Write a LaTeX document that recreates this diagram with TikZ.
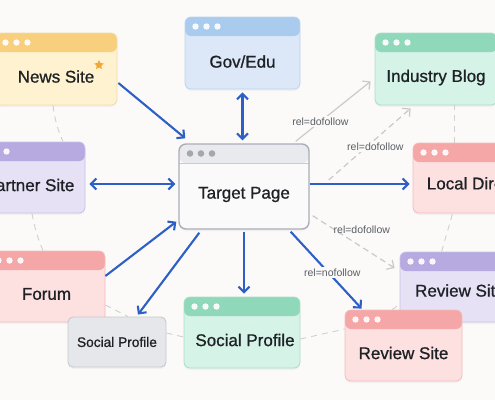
\documentclass[tikz,border=0pt]{standalone}
\usepackage{fontspec}
\setmainfont{Liberation Sans}
\newfontfamily\medfont{Liberation Sans}[FakeBold=0.9]
\usetikzlibrary{arrows.meta,shapes.geometric,shadows,calc}
\definecolor{bg}{HTML}{FBFAF8}
\definecolor{blu}{HTML}{2D5FC6}
\definecolor{ink}{HTML}{1E2125}
\definecolor{lblc}{HTML}{5A5F66}
\definecolor{grayln}{HTML}{C9C9C9}
\definecolor{ringc}{HTML}{D0D0D0}
\definecolor{yH}{HTML}{F8CF7C}\definecolor{yB}{HTML}{FEF2D0}\definecolor{yD}{HTML}{F2DDA6}
\definecolor{bH}{HTML}{A9CBEE}\definecolor{bB}{HTML}{DCE8F8}\definecolor{bD}{HTML}{BCD3EE}
\definecolor{gH}{HTML}{8FD8BA}\definecolor{gB}{HTML}{D6F3E7}\definecolor{gD}{HTML}{A9DEC8}
\definecolor{pH}{HTML}{B6AAE0}\definecolor{pB}{HTML}{E6E1F5}\definecolor{pD}{HTML}{C9C0EA}
\definecolor{rH}{HTML}{F5A6A6}\definecolor{rB}{HTML}{FDE0E0}\definecolor{rD}{HTML}{F3BDBD}
\definecolor{tH}{HTML}{E9EAED}\definecolor{tB}{HTML}{FAFAFB}\definecolor{tD}{HTML}{A9AEB8}
\definecolor{tDot}{HTML}{A4A7AE}\definecolor{tLine}{HTML}{C8CBD1}
\definecolor{sF}{HTML}{E6E7EB}\definecolor{sD}{HTML}{C6C9CF}
\definecolor{starc}{HTML}{F3A632}
\tikzset{
  win/.style n args={3}{draw=#3, fill=#2, line width=0.8pt, rounded corners=6pt, inner sep=0pt,
    drop shadow={shadow xshift=0pt, shadow yshift=-2pt, opacity=0.07},
    path picture={
      \fill[#1] (path picture bounding box.north west) rectangle ([yshift=-19pt]path picture bounding box.north east);
      \foreach \dx in {10.5,21.5,32.5}
        \fill[white, opacity=.9] ([xshift=\dx pt, yshift=-9.5pt]path picture bounding box.north west) circle (3.2pt);
    }},
  tgtwin/.style={draw=tD, fill=tB, line width=1.4pt, rounded corners=7pt, inner sep=0pt,
    drop shadow={shadow xshift=0pt, shadow yshift=-2pt, opacity=0.08},
    path picture={
      \fill[tH] (path picture bounding box.north west) rectangle ([yshift=-19pt]path picture bounding box.north east);
      \draw[tLine, line width=0.8pt] ([yshift=-19pt]path picture bounding box.north west) -- ([yshift=-19pt]path picture bounding box.north east);
      \foreach \dx in {11,22,33}
        \fill[tDot] ([xshift=\dx pt, yshift=-9.5pt]path picture bounding box.north west) circle (3.3pt);
    }},
  ttl/.style={font=\medfont\fontsize{17}{20}\selectfont, text=ink},
  lbl/.style={font=\fontsize{10.5}{12}\selectfont, text=lblc, fill=bg, inner sep=1.5pt},
  barr/.style={draw=blu, line width=2.1pt},
  garr/.style={draw=grayln, line width=1.2pt},
  ring/.style={draw=ringc, line width=0.9pt, dash pattern=on 6pt off 5pt},
  >={Straight Barb[length=5.5pt,width=11pt]}
}
\begin{document}
\begin{tikzpicture}[x=1pt,y=-1pt]
\fill[bg] (0,0) rectangle (495,400);
\useasboundingbox (0,0) rectangle (495,400);
\clip (0,0) rectangle (495,400);

% boxes
\node[win={yH}{yB}{yD}, minimum width=122pt, minimum height=72pt,
  label={[ttl,yshift=-7.5pt]center:News Site}] (news) at (56,69) {};
\node[star, star points=5, star point ratio=2.1, fill=starc, minimum size=10pt, inner sep=0pt] (nstar) at (99,65) {};
\node[win={bH}{bB}{bD}, minimum width=115pt, minimum height=72pt,
  label={[ttl,yshift=-8.5pt]center:Gov/Edu}] (gov) at (242.5,53) {};
\node[win={gH}{gB}{gD}, minimum width=122pt, minimum height=72pt,
  label={[ttl,yshift=-8.5pt]center:Industry Blog}] (ind) at (436,69) {};
\node[win={pH}{pB}{pD}, minimum width=111pt, minimum height=71pt,
  label={[ttl,yshift=-7.5pt]center:Partner Site}] (part) at (29.5,177.5) {};
\node[tgtwin, minimum width=130pt, minimum height=85pt,
  label={[ttl,yshift=-8pt]center:Target Page}] (tgt) at (244,186.5) {};
\node[win={rH}{rB}{rD}, minimum width=122pt, minimum height=70pt,
  label={[ttl,yshift=-7pt,xshift=9.5pt]center:Local Directory}] (loc) at (474,178) {};
\node[win={rH}{rB}{rD}, minimum width=117pt, minimum height=71pt,
  label={[ttl,yshift=-7.5pt]center:Forum}] (forum) at (46.5,286.5) {};
\node[draw=sD, fill=sF, line width=0.9pt, rounded corners=5pt, minimum width=98pt, minimum height=50pt,
  drop shadow={shadow xshift=0pt, shadow yshift=-2pt, opacity=0.07},
  font=\medfont\fontsize{13.7}{16}\selectfont, text=ink] (gsoc) at (117,342) {Social Profile};
\node[win={gH}{gB}{gD}, minimum width=116pt, minimum height=71pt,
  label={[ttl,yshift=-7.5pt,xshift=3pt]center:Social Profile}] (soc) at (242,332.5) {};
\node[win={pH}{pB}{pD}, minimum width=116pt, minimum height=70pt,
  label={[ttl,yshift=-3.5pt,xshift=2pt]center:Review Site}] (prev) at (458,287) {};
\node[win={rH}{rB}{rD}, minimum width=117pt, minimum height=71pt,
  label={[ttl,yshift=-7.5pt]center:Review Site}] (rrev) at (403.5,345.5) {};

% ring of dashed links
\draw[ring] ([xshift=-3pt]news.south) to[bend right=8] ([xshift=33.5pt]part.north);
\draw[ring] ([xshift=2.5pt]part.south) to[bend right=6] ([xshift=-3.5pt]forum.north);
\draw[ring] ([yshift=-18.5pt]forum.east) -- ([xshift=11pt]gsoc.north);
\draw[ring] ([yshift=9pt]gsoc.east) -- ([yshift=-4.5pt]soc.west);
\draw[ring] ([yshift=-6.5pt]soc.east) -- ([yshift=16.5pt]rrev.west);
\draw[ring] ([xshift=-11.5pt]rrev.north) -- ([yshift=18pt]prev.south west);
\draw[ring] ([xshift=42pt]prev.north west) -- ([xshift=40pt]loc.south west);
\draw[ring] ([xshift=42pt]loc.north west) -- ([xshift=80pt]ind.south west);

% gray links
\draw[garr,->] ([xshift=-14pt,yshift=2pt]tgt.north east) -- node[lbl,pos=.33]{rel=dofollow} ([xshift=-4pt,yshift=24pt]ind.south west);
\draw[garr,->,dash pattern=on 6pt off 4pt] ([xshift=19pt,yshift=6.5pt]tgt.east) -- node[lbl,pos=.46,xshift=9pt]{rel=dofollow} ([xshift=36pt,yshift=-3pt]ind.south west);
\draw[garr,->,dash pattern=on 6pt off 4pt] ([xshift=3pt,yshift=14pt]tgt.south east) -- node[lbl,pos=.6,yshift=17pt,fill=none]{rel=dofollow} ([xshift=-5pt,yshift=19pt]prev.west);

% blue links
\draw[barr,->] ([xshift=1pt,yshift=-14pt]news.east) -- ([xshift=7pt,yshift=5pt]tgt.north west);
\draw[barr,<->] ([yshift=-3pt]gov.south) -- ([yshift=3pt]gov.south |- tgt.north);
\coordinate (pa) at ([xshift=4pt,yshift=-6.5pt]part.east);
\draw[barr,<->] (pa) -- ([xshift=-3pt]pa -| tgt.west);
\draw[barr,->] ([yshift=10.5pt]forum.east) -- ([xshift=-2pt,yshift=8pt]tgt.south west);
\draw[barr,->] ([xshift=21pt,yshift=-3pt]tgt.south west) -- ([xshift=21pt,yshift=2pt]gsoc.north);
\draw[barr,->] ([yshift=-2pt]tgt.south) -- ([yshift=3pt]tgt.south |- soc.north);
\coordinate (pl) at ([yshift=2.5pt]tgt.east);
\draw[barr,->] (pl) -- ([xshift=-3pt]pl -| loc.west);
\draw[barr,->] ([xshift=-19pt,yshift=-2pt]tgt.south east) -- node[lbl,pos=.53,xshift=4pt]{rel=nofollow} ([xshift=17pt,yshift=1pt]rrev.north west);
\end{tikzpicture}
\end{document}
